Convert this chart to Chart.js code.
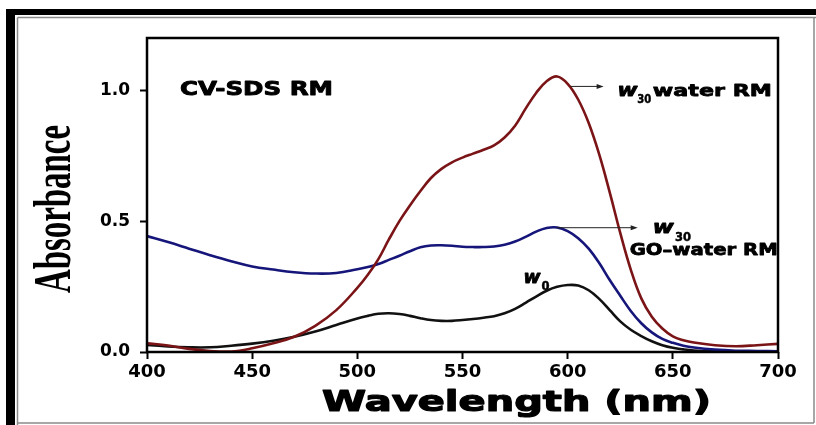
<!DOCTYPE html>
<html>
<head>
<meta charset="utf-8">
<script src="https://cdn.jsdelivr.net/npm/chart.js@4/dist/chart.umd.min.js"></script>
<style>
  html, body { margin: 0; padding: 0; background: #fff; }
  #wrap { width: 816px; height: 425px; position: relative; }
</style>
</head>
<body>
<div id="wrap"><canvas id="c" width="816" height="425"></canvas></div>
<script>
// ---- data ----
const wavelengths = [400,410,420,430,440,450,460,470,480,490,500,505,510,515,520,525,530,535,540,545,550,555,560,565,570,575,580,585,590,595,600,605,610,615,620,625,630,635,640,645,650,655,660,670,680,690,700];

const w30Water = [0.033,0.025,0.012,0.004,0.002,0.014,0.033,0.058,0.100,0.160,0.245,0.295,0.355,0.430,0.500,0.560,0.615,0.665,0.700,0.725,0.743,0.758,0.773,0.790,0.820,0.865,0.930,0.990,1.035,1.053,1.025,0.965,0.875,0.755,0.610,0.455,0.315,0.205,0.135,0.090,0.060,0.045,0.036,0.026,0.022,0.026,0.031];

const w30GOWater = [0.443,0.420,0.395,0.370,0.347,0.327,0.315,0.305,0.300,0.302,0.316,0.325,0.336,0.352,0.368,0.385,0.400,0.407,0.408,0.406,0.402,0.401,0.401,0.403,0.410,0.422,0.440,0.460,0.474,0.476,0.462,0.435,0.395,0.340,0.275,0.215,0.157,0.110,0.075,0.050,0.035,0.024,0.017,0.009,0.005,0.004,0.003];

const w0 = [0.027,0.021,0.018,0.018,0.024,0.032,0.043,0.058,0.078,0.103,0.128,0.138,0.146,0.148,0.145,0.138,0.129,0.122,0.119,0.119,0.122,0.126,0.131,0.137,0.148,0.165,0.188,0.212,0.234,0.249,0.256,0.254,0.236,0.203,0.160,0.117,0.085,0.061,0.041,0.026,0.016,0.010,0.006,0.003,0.002,0.002,0.002];

const xTicks = [400,450,500,550,600,650,700];
const yTicks = [0.0,0.5,1.0];

const seriesNames = ['w30 water RM','w30 GO-water RM','w0'];
const seriesColors = ['#7a1416','#15157a','#111111'];

function pts(vals){ return wavelengths.map((x,i)=>({x:x, y:vals[i]})); }

// ---- decoration plugin ----
function stretchedText(ctx, str, x, y, font, width, stroke){
  ctx.save();
  ctx.font = font;
  const m = ctx.measureText(str).width;
  const sx = width / m;
  ctx.translate(x, y);
  ctx.scale(sx, 1);
  ctx.textAlign = 'left';
  ctx.textBaseline = 'alphabetic';
  ctx.fillStyle = '#000';
  ctx.fillText(str, 0, 0);
  if (stroke) {
    ctx.strokeStyle = '#000';
    ctx.lineWidth = stroke;
    ctx.lineJoin = 'round';
    ctx.strokeText(str, 0, 0);
  }
  ctx.restore();
}

const deco = {
  id: 'deco',
  beforeDraw(chart){
    const ctx = chart.ctx;
    ctx.save();
    ctx.fillStyle = '#fff';
    ctx.fillRect(0,0,chart.width,chart.height);
    // outer frame
    ctx.fillStyle = '#000';
    ctx.fillRect(6, 9, 9, chart.height - 9);
    ctx.fillRect(6, 9, chart.width - 6, 6);
    ctx.strokeStyle = '#8a8a8a';
    ctx.lineWidth = 1.5;
    ctx.beginPath();
    ctx.moveTo(17.5, 17.5); ctx.lineTo(chart.width, 17.5);
    ctx.moveTo(17.5, 17.5); ctx.lineTo(17.5, chart.height);
    ctx.moveTo(814, 17.5); ctx.lineTo(814, 423);
    ctx.moveTo(17.5, 423); ctx.lineTo(814, 423);
    ctx.stroke();
    ctx.restore();
  },
  afterDraw(chart){
    const ctx = chart.ctx;
    const a = chart.chartArea;
    const xs = chart.scales.x, ys = chart.scales.y;
    const X = v => xs.getPixelForValue(v);
    const Y = v => ys.getPixelForValue(v);
    ctx.save();
    // plot box
    ctx.strokeStyle = '#000';
    ctx.lineWidth = 2.5;
    ctx.strokeRect(a.left, a.top, a.right - a.left, a.bottom - a.top);

    // arrows
    function arrow(x1, x2, y){
      ctx.strokeStyle = '#222';
      ctx.lineWidth = 1;
      ctx.beginPath();
      ctx.moveTo(x1, y); ctx.lineTo(x2 - 4, y);
      ctx.stroke();
      ctx.fillStyle = '#222';
      ctx.beginPath();
      ctx.moveTo(x2, y); ctx.lineTo(x2 - 7, y - 2.5); ctx.lineTo(x2 - 7, y + 2.5);
      ctx.closePath(); ctx.fill();
    }
    arrow(X(601.4), X(617.1), Y(1.015));
    arrow(X(594.8), X(633.3), Y(0.475));

    const lab = 'bold 16.5px "DejaVu Sans"';
    const ital = 'italic bold 17px "DejaVu Sans"';
    const sub = 'bold 12px "DejaVu Sans"';

    stretchedText(ctx, 'CV-SDS RM', X(415.7), Y(0.981), 'bold 19.5px "DejaVu Sans"', 153, 0.9);

    stretchedText(ctx, 'w', X(623.7), Y(0.977), ital, 20, 0.8);
    stretchedText(ctx, '30', X(633.1), Y(0.950), sub, 14, 0.5);
    stretchedText(ctx, 'water RM', X(640.5), Y(0.977), lab, 119, 0.8);

    stretchedText(ctx, 'w', X(640.5), Y(0.454), ital, 21, 0.8);
    stretchedText(ctx, '30', X(651), Y(0.424), sub, 16, 0.5);
    stretchedText(ctx, 'GO\u2013water RM', X(629.5), Y(0.370), lab, 148, 0.8);

    stretchedText(ctx, 'w', X(579), Y(0.263), ital, 17, 0.8);
    stretchedText(ctx, '0', X(587.6), Y(0.237), sub, 8, 0.5);

    // axis titles
    stretchedText(ctx, 'Wavelength (nm)', 322, 411, 'bold 29px "DejaVu Sans"', 389, 1.2);

    ctx.save();
    ctx.font = 'bold 33px "Liberation Serif"';
    const m = ctx.measureText('Absorbance').width;
    ctx.translate(70, 209);
    ctx.rotate(-Math.PI/2);
    ctx.scale(168 / m, 1.6);
    ctx.textAlign = 'center';
    ctx.textBaseline = 'alphabetic';
    ctx.fillStyle = '#000';
    ctx.fillText('Absorbance', 0, 0);
    ctx.restore();

    ctx.restore();
  }
};

const data = {
  datasets: [
    { label: seriesNames[0], data: pts(w30Water), borderColor: seriesColors[0] },
    { label: seriesNames[1], data: pts(w30GOWater), borderColor: seriesColors[1] },
    { label: seriesNames[2], data: pts(w0), borderColor: seriesColors[2] }
  ].map(d => Object.assign(d, { borderWidth: 2.6, pointRadius: 0, fill: false, tension: 0.4 }))
};

new Chart(document.getElementById('c'), {
  type: 'line',
  data: data,
  plugins: [deco],
  options: {
    responsive: false,
    animation: false,
    events: [],
    layout: { padding: { top: 38, right: 38, left: 0, bottom: 0 } },
    plugins: { legend: { display: false }, tooltip: { enabled: false }, title: { display: false } },
    scales: {
      x: {
        type: 'linear', min: 400, max: 700,
        afterFit(s){ s.height = 73; },
        afterBuildTicks(s){ s.ticks = xTicks.map(v => ({ value: v })); },
        ticks: { color: '#000', font: { family: 'DejaVu Sans', weight: 'bold', size: 18 }, padding: 3, maxRotation: 0, callback: v => String(v) },
        grid: { display: true, drawOnChartArea: false, drawTicks: true, tickLength: 7, tickWidth: 2, tickColor: '#000' },
        border: { display: false }
      },
      y: {
        type: 'linear', min: 0, max: 1.2,
        afterFit(s){ s.width = 147; },
        afterBuildTicks(s){ s.ticks = yTicks.map(v => ({ value: v })); },
        ticks: { color: '#000', font: { family: 'DejaVu Sans', weight: 'bold', size: 17 }, padding: 10, callback: v => Number(v).toFixed(1) },
        grid: { display: true, drawOnChartArea: false, drawTicks: true, tickLength: 7, tickWidth: 2, tickColor: '#000' },
        border: { display: false }
      }
    }
  }
});
</script>
</body>
</html>
